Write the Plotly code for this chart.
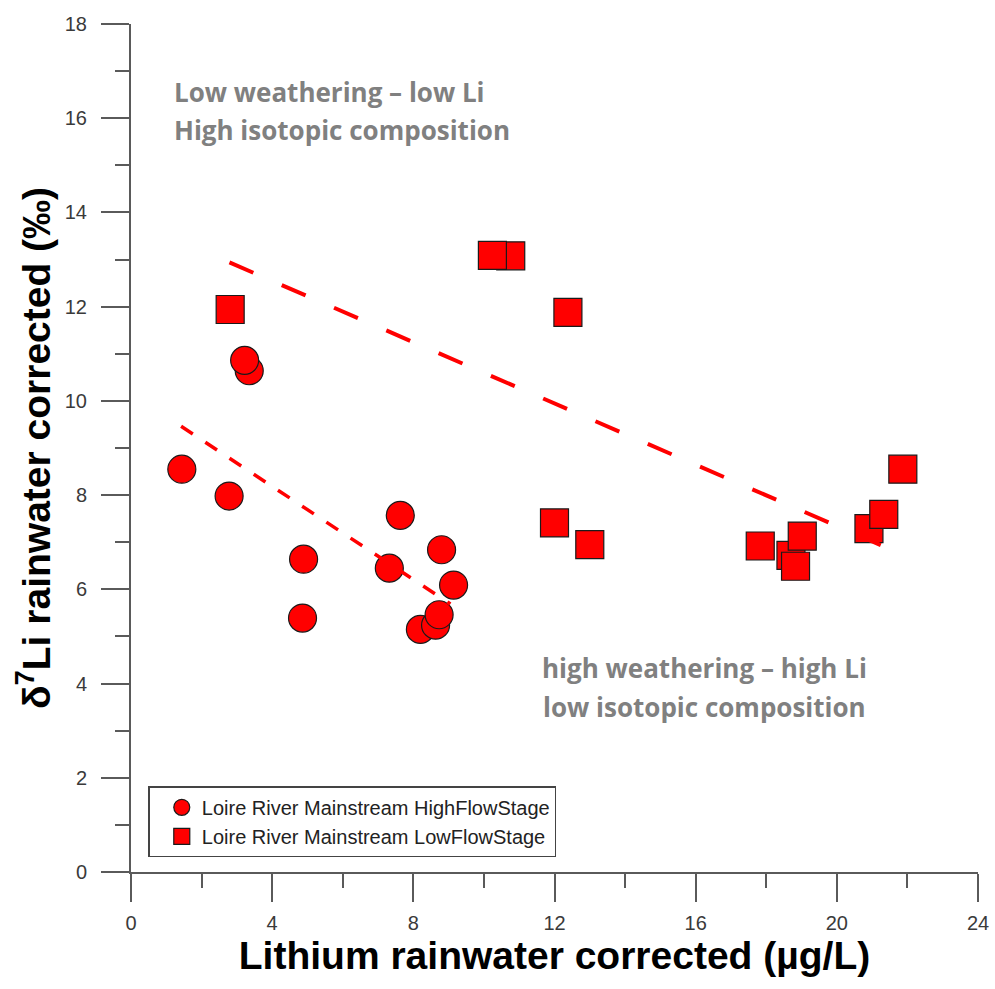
import plotly.graph_objects as go

# Loire River mainstream samples: Li concentration (µg/L) vs δ7Li (‰), rainwater corrected
high_flow_li = [1.44, 2.78, 3.35, 3.22, 4.89, 4.86, 7.63, 7.32, 8.80, 9.14, 8.20, 8.63, 8.73]
high_flow_d7li = [8.55, 7.98, 10.64, 10.86, 6.64, 5.39, 7.57, 6.45, 6.84, 6.09, 5.15, 5.24, 5.46]

low_flow_li = [2.81, 10.76, 10.24, 12.38, 12.0, 13.0, 17.83, 18.70, 19.02, 18.83, 20.91, 21.33, 21.87]
low_flow_d7li = [11.94, 13.08, 13.09, 11.88, 7.41, 6.95, 6.92, 6.72, 7.13, 6.49, 7.29, 7.59, 8.55]

# Linear trends through each flow stage (end points)
high_trend_li = [1.42, 9.05]
high_trend_d7li = [9.46, 5.69]
low_trend_li = [2.79, 21.86]
low_trend_d7li = [12.94, 6.74]

RED = "#ff0000"
AXIS = "#5a5a5a"
NOTE = "#808080"

fig = go.Figure()

fig.add_trace(go.Scatter(
    x=high_flow_li, y=high_flow_d7li, mode="markers",
    name="Loire River Mainstream HighFlowStage",
    marker=dict(symbol="circle", size=28, color=RED,
                line=dict(color="#1a1a1a", width=1.2)),
))
fig.add_trace(go.Scatter(
    x=low_flow_li, y=low_flow_d7li, mode="markers",
    name="Loire River Mainstream LowFlowStage",
    marker=dict(symbol="square", size=28, color=RED,
                line=dict(color="#1a1a1a", width=1.2)),
))
fig.add_trace(go.Scatter(
    x=high_trend_li, y=high_trend_d7li, mode="lines", showlegend=False,
    line=dict(color=RED, width=3.5, dash="14px,15px"),
))
fig.add_trace(go.Scatter(
    x=low_trend_li, y=low_trend_d7li, mode="lines", showlegend=False,
    line=dict(color=RED, width=4, dash="26px,31px"),
))

note_font = dict(family="Open Sans", size=26, color=NOTE, weight="bold")
notes = [
    ("Low weathering – low Li", 1.17, 16.55, "left"),
    ("High isotopic composition", 1.17, 15.75, "left"),
    ("high weathering – high Li", 16.26, 4.32, "center"),
    ("low isotopic composition", 16.26, 3.50, "center"),
]
for text, x, y, anchor in notes:
    fig.add_annotation(x=x, y=y, xref="x", yref="y", text=text, showarrow=False,
                       xanchor=anchor, yanchor="middle", font=note_font)

tick_font = dict(family="Liberation Sans", size=20, color="#3a3a3a")
title_font = dict(family="Liberation Sans", size=39, color="#000000", weight="bold")

fig.update_xaxes(
    range=[0, 24], dtick=4, tick0=0, automargin=False,
    showline=True, linecolor=AXIS, linewidth=2,
    ticks="outside", ticklen=28, tickwidth=1.5, tickcolor=AXIS,
    minor=dict(dtick=2, ticks="outside", ticklen=14, tickwidth=1.5, tickcolor=AXIS),
    showgrid=False, zeroline=False, tickfont=tick_font, ticklabelstandoff=4,
    title=dict(text="Lithium rainwater corrected (µg/L)", font=title_font, standoff=9),
)
fig.update_yaxes(
    range=[0, 18], dtick=2, tick0=0, automargin=False,
    showline=True, linecolor=AXIS, linewidth=2,
    ticks="outside", ticklen=28, tickwidth=1.5, tickcolor=AXIS,
    minor=dict(dtick=1, ticks="outside", ticklen=14, tickwidth=1.5, tickcolor=AXIS),
    showgrid=False, zeroline=False, tickfont=tick_font, ticklabelstandoff=10,
    title=dict(text="δ<sup>7</sup>Li rainwater corrected (‰)", font=title_font, standoff=2),
)

fig.update_layout(
    width=995, height=989,
    margin=dict(l=131, r=17, t=24, b=117),
    paper_bgcolor="white", plot_bgcolor="white",
    showlegend=True,
    legend=dict(
        x=0.0204, y=0.0173, xanchor="left", yanchor="bottom",
        bgcolor="white", bordercolor="#444444", borderwidth=1.5,
        font=dict(family="Liberation Sans", size=20, color="#222222"),
        itemsizing="trace", indentation=12,
    ),
)

fig.write_html("out.html")
